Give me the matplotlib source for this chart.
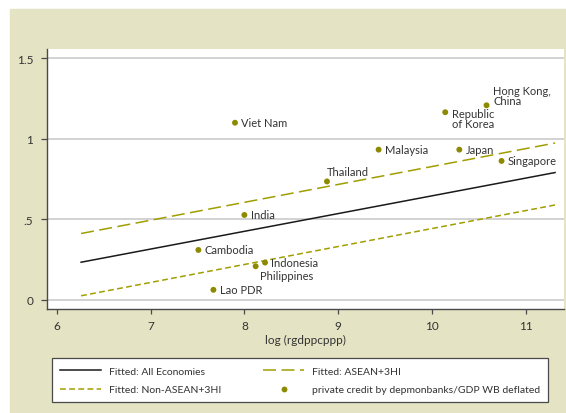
import matplotlib.pyplot as plt
from matplotlib.patches import Rectangle
from matplotlib.lines import Line2D

plt.rcParams['font.family'] = ['Lato', 'DejaVu Sans']

# private credit vs log GDP per capita
economies = ['Viet Nam', 'Republic\nof Korea', 'Hong Kong,\nChina', 'Malaysia', 'Japan',
             'Singapore', 'Thailand', 'India', 'Cambodia', 'Indonesia', 'Philippines', 'Lao PDR']
log_gdp = [7.90, 10.14, 10.58, 9.43, 10.29, 10.74, 8.88, 8.00, 7.51, 8.22, 8.12, 7.67]
credit = [1.099, 1.164, 1.207, 0.932, 0.932, 0.862, 0.735, 0.527, 0.310, 0.232, 0.209, 0.063]

# fitted lines (end points)
fit_x = [6.26, 11.31]
fit_all = [0.234, 0.790]
fit_asean = [0.412, 0.973]
fit_non_asean = [0.026, 0.589]

yticks = [0, 0.5, 1, 1.5]
ytick_labels = ['0', '.5', '1', '1.5']
xticks = [6, 7, 8, 9, 10, 11]

# label placement: offset in points, horizontal / vertical alignment
label_pos = {
    'Thailand': ((0, 7), 'left', 'center'),
    'Hong Kong,\nChina': ((5, 7), 'left', 'center'),
    'Republic\nof Korea': ((4.8, -4.6), 'left', 'center'),
    'Philippines': ((3, -6.3), 'left', 'center'),
}

beige = '#e4e3c3'
olive = '#8c8a00'
olive_line = '#a09e00'
dark = '#4a4a4a'
txt = '#333333'

fig = plt.figure(figsize=(5.66, 4.14), dpi=100, facecolor='white')
fig.patches.append(Rectangle((10 / 566, 0), 556 / 566, 404 / 414,
                             transform=fig.transFigure, color=beige, zorder=-10))

ax = fig.add_axes([47 / 566, 104 / 414, 516.5 / 566, 260 / 414])
ax.set_facecolor('white')
ax.set_xlim(5.897, 11.40)
ax.set_ylim(-0.056, 1.556)

for y in yticks:
    ax.axhline(y, color='#c6c6c6', lw=1.1, zorder=1)

l_all, = ax.plot(fit_x, fit_all, color='#1a1a1a', lw=1.1, zorder=3)
l_asean, = ax.plot(fit_x, fit_asean, color=olive_line, lw=1.1, dashes=(8.5, 3.6), zorder=3)
l_non, = ax.plot(fit_x, fit_non_asean, color=olive_line, lw=1.1, dashes=(3.8, 2.2), zorder=3)
pts = ax.scatter(log_gdp, credit, s=18, color=olive, edgecolors='none', zorder=4)

for name, x, y in zip(economies, log_gdp, credit):
    off, ha, va = label_pos.get(name, ((4.6, 0), 'left', 'center'))
    ax.annotate(name, (x, y), xytext=off, textcoords='offset points',
                ha=ha, va=va, fontsize=8, color=txt, linespacing=0.95, zorder=5)

ax.set_xticks(xticks)
ax.set_xticklabels([str(t) for t in xticks])
ax.set_yticks(yticks)
ax.set_yticklabels(ytick_labels)
ax.tick_params(axis='y', direction='out', length=4.3, width=0.9, color=dark,
               labelsize=8.5, labelcolor=txt, pad=5.5)
ax.tick_params(axis='x', direction='out', length=3.6, width=0.9, color=dark,
               labelsize=8.5, labelcolor=txt, pad=4.5)
for side in ['top', 'right']:
    ax.spines[side].set_visible(False)
for side in ['left', 'bottom']:
    ax.spines[side].set_color(dark)
    ax.spines[side].set_linewidth(1.0)
ax.set_xlabel('log (rgdppcppp)', fontsize=8.5, color=txt, labelpad=2)

handles = [l_all, l_non, l_asean,
           Line2D([], [], ls='none', marker='o', ms=4.2, color=olive, mec='none')]
labels = ['Fitted: All Economies', 'Fitted: Non-ASEAN+3HI', 'Fitted: ASEAN+3HI',
          'private credit by depmonbanks/GDP WB deflated']
leg = fig.legend(handles, labels, ncol=2, loc='lower left',
                 bbox_to_anchor=(52 / 566, 11 / 414), borderaxespad=0,
                 fontsize=7.5, frameon=True, fancybox=False, framealpha=1,
                 facecolor='white', handlelength=4.0,
                 handletextpad=0.7, labelspacing=0.9, borderpad=0.75,
                 columnspacing=4.0)
leg.get_frame().set_edgecolor(dark)
leg.get_frame().set_linewidth(0.9)
for t in leg.get_texts():
    t.set_color(txt)

fig.savefig('out.png', dpi=100)
